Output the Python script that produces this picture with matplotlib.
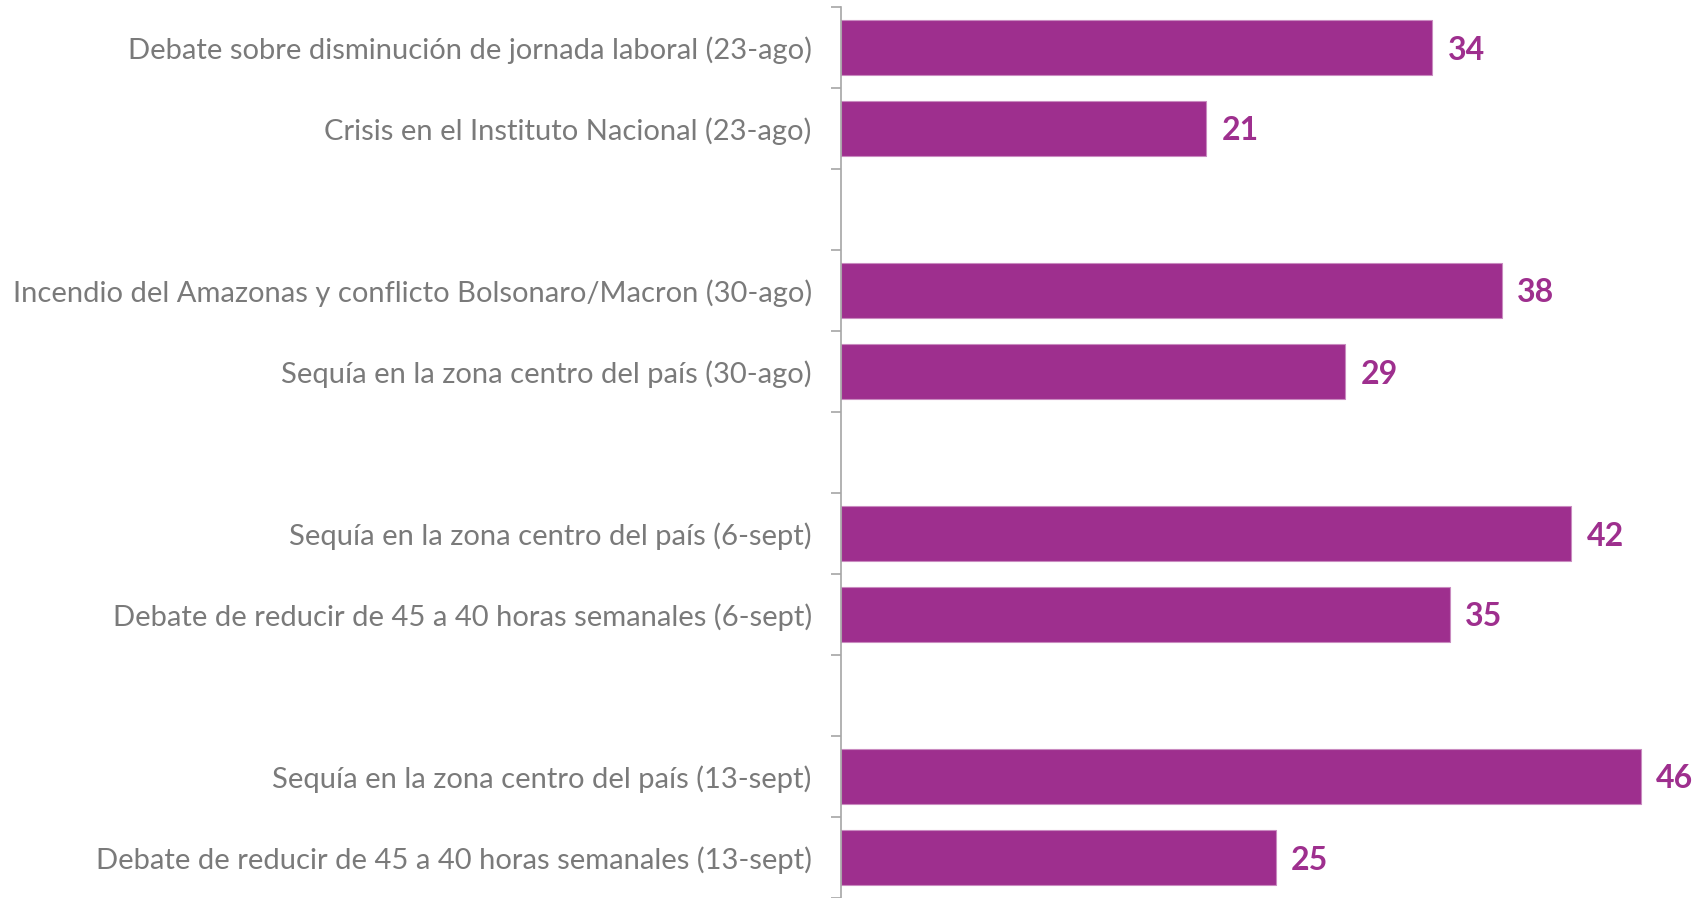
import matplotlib.pyplot as plt
from matplotlib.ticker import FixedLocator

labels = [
    "Debate sobre disminución de jornada laboral (23-ago)",
    "Crisis en el Instituto Nacional (23-ago)",
    "Incendio del Amazonas y conflicto Bolsonaro/Macron (30-ago)",
    "Sequía en la zona centro del país (30-ago)",
    "Sequía en la zona centro del país (6-sept)",
    "Debate de reducir de 45 a 40 horas semanales (6-sept)",
    "Sequía en la zona centro del país (13-sept)",
    "Debate de reducir de 45 a 40 horas semanales (13-sept)",
]
values = [34, 21, 38, 29, 42, 35, 46, 25]
group_size = 2

BAR = "#9E2F8E"
GREY = "#7A7A7A"

plt.rcParams['font.family'] = ['Lato', 'DejaVu Sans']

# two bars per week, one empty slot between weeks
pos = [(i // group_size) * (group_size + 1) + i % group_size for i in range(len(values))]
n_slots = pos[-1] + 1

fig = plt.figure(figsize=(17.06, 8.98), dpi=100)
ax = fig.add_axes([841 / 1706, 0, 1 - 841 / 1706, 891 / 898])

ax.barh(pos, values, height=0.67, color=BAR, edgecolor="#C98BC0", linewidth=0.8)
for p, v in zip(pos, values):
    ax.annotate(str(v), (v, p), xytext=(11, 0), textcoords="offset points",
                va="center_baseline", ha="left", color=BAR, fontsize=23, fontweight="bold")

ax.set_xlim(0, 49.74)
ax.set_ylim(n_slots - 0.5, -0.5)
ax.set_yticks(pos)
ax.set_yticklabels(labels, fontsize=21, color=GREY)
ax.yaxis.set_minor_locator(FixedLocator([s - 0.5 for s in range(n_slots + 1)]))
ax.tick_params(axis="y", which="major", length=0, pad=21)
ax.tick_params(axis="y", which="minor", length=7, width=1.2, color="#A6A6A6")
ax.set_xticks([])

for s in ["top", "right", "bottom"]:
    ax.spines[s].set_visible(False)
ax.spines["left"].set_color("#A6A6A6")
ax.spines["left"].set_linewidth(1.2)

fig.savefig("out.png", dpi=100)
